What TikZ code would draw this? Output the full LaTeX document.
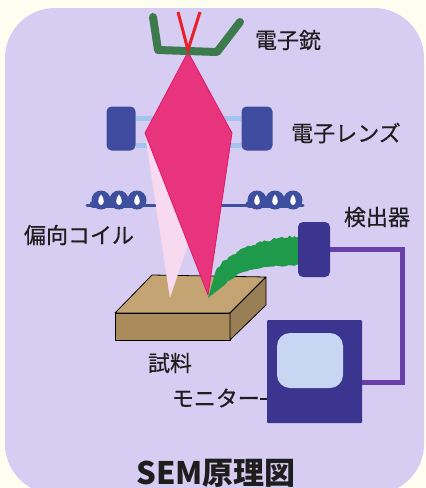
\documentclass[tikz,border=0pt]{standalone}
\usepackage{fontspec}
\setmainfont{Noto Sans CJK JP}
\newfontfamily\labelfont{Noto Sans CJK JP}[FakeBold=0.5]
\usetikzlibrary{decorations.pathmorphing}

\definecolor{paper}{HTML}{FEFEF0}
\definecolor{lavender}{HTML}{D7CDF2}
\definecolor{labelgray}{HTML}{1E1E1E}
\definecolor{beampink}{HTML}{E8347C}
\definecolor{beamedge}{HTML}{E01868}
\definecolor{scanpink}{HTML}{F8DAF0}
\definecolor{gungreen}{HTML}{3D7A4C}
\definecolor{filred}{HTML}{E8202A}
\definecolor{lensblue}{HTML}{3F4B9E}
\definecolor{barblue}{HTML}{A2C4EE}
\definecolor{coilblue}{HTML}{3E4FA0}
\definecolor{indigo}{HTML}{3B3590}
\definecolor{wirepurple}{HTML}{6B3FA8}
\definecolor{screenblue}{HTML}{C8D6F4}
\definecolor{sigreen}{HTML}{1E9A4A}
\definecolor{woodtop}{HTML}{C4A472}
\definecolor{woodfront}{HTML}{A98B5C}
\definecolor{woodside}{HTML}{9A7E55}

\begin{document}
\begin{tikzpicture}[x=1pt,y=-1pt]
    \tikzstyle{Label} = [
            text=labelgray,
            inner sep=0pt,
            font={\labelfont\fontsize{22}{22}\selectfont}
    ];
    \tikzstyle{Title} = [
            Label,
            font={\fontsize{31}{31}\selectfont\bfseries}
    ];
    \tikzstyle{LensBlock} = [
            fill=lensblue,
            rectangle,
            rounded corners=5pt,
            inner sep=0pt,
            minimum height=44pt
    ];
    \tikzstyle{LensBar} = [
            draw=barblue,
            line width=5pt
    ];
    \tikzstyle{Unit} = [
            fill=indigo,
            rectangle,
            inner sep=0pt
    ];
    \tikzstyle{Wire} = [
            draw=wirepurple,
            line width=5pt
    ];
    \tikzstyle{Wood} = [
            draw=black,
            line width=0.8pt,
            line join=round
    ];

    % frame
    \useasboundingbox (0,0) rectangle (426,488);
    \fill[paper] (0,0) rectangle (426,488);
    \fill[lavender, rounded corners=50pt] (5,8) rectangle (424,494);

    % electron lens
    \node[LensBlock, name=LensL, minimum width=29pt] at (121,128.5) {};
    \node[LensBlock, name=LensR, minimum width=31pt] at (257,128.5) {};
    \foreach \y in {118,145}
        \draw[LensBar] (LensL.east |- 0,\y) -- (LensR.west |- 0,\y);

    % deflection coils
    \foreach \x/\lo/\hi in {101/87/157, 257/222/303} {
        \draw[coilblue, line width=3pt, line cap=round] (\lo,205) -- (\hi,205);
        \draw[coilblue, line width=7pt, line cap=round] (\x-8,204) -- (\x+37,204);
        \foreach \dx in {0,18,36} {
            \fill[coilblue] (\x+\dx,200) circle (9.5pt);
            \fill[white] (\x+\dx,194.5) .. controls (\x+\dx+3.8,198.5) and (\x+\dx+3.6,205) .. (\x+\dx,205)
                                       .. controls (\x+\dx-3.6,205) and (\x+\dx-3.8,198.5) .. (\x+\dx,194.5);
        }
    }

    % specimen block
    \filldraw[Wood, fill=woodtop]   (152,275) -- (266,277) -- (230,313) -- (115,313) -- cycle;
    \filldraw[Wood, fill=woodfront] (115,313) -- (230,313) -- (230,340) -- (115,340) -- cycle;
    \filldraw[Wood, fill=woodside]  (230,313) -- (266,277) -- (266,305) -- (230,340) -- cycle;

    % scanned beam and focused beam
    \filldraw[draw=scanpink!80!pink, fill=scanpink] (145,133) -- (203,200) -- (170,297) -- cycle;
    \filldraw[draw=beamedge, fill=beampink, line width=0.8pt, line join=round]
        (188,52) -- (232,133) -- (208,295) -- (145,133) -- cycle;

    % electron gun
    \draw[gungreen, line width=8pt, line cap=round, line join=round]
        (153,17) -- (158,50) -- (217,52) -- (240,22);
    \draw[filred, line width=3pt, line join=miter] (178,12) -- (188,50) -- (200,12);

    % secondary electrons
    \pgfmathsetseed{7}
    \fill[sigreen] (208,298) -- (216,270)
        decorate[decoration={random steps, segment length=2.5pt, amplitude=1.3pt}]
            { .. controls (232,250) and (262,238) .. (300,236) }
        -- (300,265)
        decorate[decoration={random steps, segment length=3pt, amplitude=0.8pt}]
            { .. controls (262,266) and (238,270) .. (226,284) }
        -- cycle;

    % detector, monitor and cable
    \node[Unit, name=Detector, rounded corners=5pt, minimum width=32pt, minimum height=55pt] at (314,249.5) {};
    \node[Unit, name=Monitor, rounded corners=1pt, minimum width=95pt, minimum height=103pt] at (314.5,371.5) {};
    \node[Unit, name=Screen, fill=screenblue, rounded corners=13pt, minimum width=66pt, minimum height=55pt] at (310,360.5) {};
    \coordinate (Bend) at (402,382);
    \draw[Wire] (Detector.east) -| (Bend) -- (Bend -| Monitor.east);

    % labels
    \node[Label, name=GunText]    at (288,40)  {電子銃};
    \node[Label, name=LensText]   at (346,133) {電子レンズ};
    \node[Label, name=CoilText]   at (79,235)  {偏向コイル};
    \node[Label, name=DetText]    at (377,217) {検出器};
    \node[Label, name=SampleText] at (170,363) {試料};
    \node[Label, name=MonText, anchor=east] at (260,398) {モニター};
    \draw[labelgray, line width=2.2pt] (MonText.east |- 0,399) -- (Monitor.west |- 0,399);
    \node[Title, name=Title]      at (216,473) {SEM原理図};
\end{tikzpicture}
\end{document}
